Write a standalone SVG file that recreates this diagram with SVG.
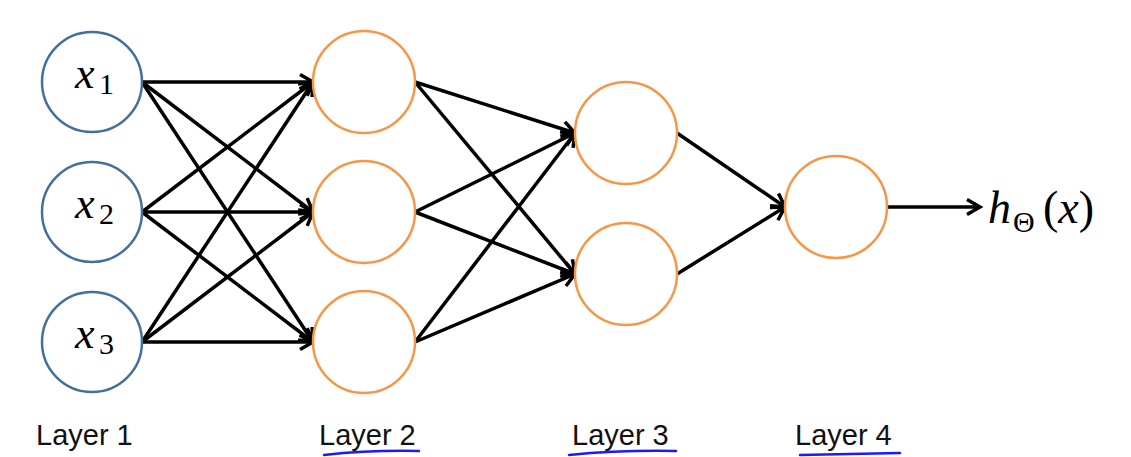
<svg xmlns="http://www.w3.org/2000/svg" width="1131" height="457" viewBox="0 0 1131 457">
<style>
.in{fill:#fff;stroke:#41709c;stroke-width:2.5}
.hid{fill:#fff;stroke:#f79646;stroke-width:2.5}
.e{stroke:#000;stroke-width:3.5;fill:none;marker-end:url(#ah)}
.m{font-family:"Liberation Serif",serif;fill:#000}
.lbl{font-family:"Liberation Sans",Arial,sans-serif;font-size:29px;fill:#111}
.ul{stroke:#1a1aff;stroke-width:2.5;fill:none;stroke-linecap:round}
</style>
<defs>
<marker id="ah" markerUnits="userSpaceOnUse" markerWidth="22" markerHeight="22" refX="15" refY="9" orient="auto">
<path d="M2,1.5 L15,9 L2,16.5" fill="none" stroke="#000" stroke-width="3.5" stroke-linejoin="miter"/>
</marker>
</defs>
<rect width="1131" height="457" fill="#fff"/>
<g id="connectors">
<line class="e" x1="142" y1="82" x2="313" y2="82"/>
<line class="e" x1="142" y1="82" x2="313" y2="212"/>
<line class="e" x1="142" y1="82" x2="313" y2="342"/>
<line class="e" x1="142" y1="212" x2="313" y2="82"/>
<line class="e" x1="142" y1="212" x2="313" y2="212"/>
<line class="e" x1="142" y1="212" x2="313" y2="342"/>
<line class="e" x1="142" y1="342" x2="313" y2="82"/>
<line class="e" x1="142" y1="342" x2="313" y2="212"/>
<line class="e" x1="142" y1="342" x2="313" y2="342"/>
<line class="e" x1="415" y1="82" x2="575" y2="133"/>
<line class="e" x1="415" y1="82" x2="575" y2="274"/>
<line class="e" x1="415" y1="212" x2="575" y2="133"/>
<line class="e" x1="415" y1="212" x2="575" y2="274"/>
<line class="e" x1="415" y1="342" x2="575" y2="133"/>
<line class="e" x1="415" y1="342" x2="575" y2="274"/>
<line class="e" x1="677" y1="133" x2="785" y2="207"/>
<line class="e" x1="677" y1="274" x2="785" y2="207"/>
<line class="e" x1="887" y1="207" x2="980" y2="207"/>
</g>
<g id="x1"><circle class="in" cx="92" cy="82" r="50"/><text class="m" x="75" y="88" font-size="44" font-style="italic">x</text><text class="m" x="99" y="94" font-size="30">1</text></g>
<g id="x2"><circle class="in" cx="92" cy="212" r="50"/><text class="m" x="75" y="218" font-size="44" font-style="italic">x</text><text class="m" x="99" y="224" font-size="30">2</text></g>
<g id="x3"><circle class="in" cx="92" cy="342" r="50"/><text class="m" x="75" y="348" font-size="44" font-style="italic">x</text><text class="m" x="99" y="354" font-size="30">3</text></g>
<g id="a21"><circle class="hid" cx="364" cy="82" r="51"/></g>
<g id="a22"><circle class="hid" cx="364" cy="212" r="51"/></g>
<g id="a23"><circle class="hid" cx="364" cy="342" r="51"/></g>
<g id="a31"><circle class="hid" cx="626" cy="133" r="51"/></g>
<g id="a32"><circle class="hid" cx="626" cy="274" r="51"/></g>
<g id="a41"><circle class="hid" cx="836" cy="207" r="51"/></g>
<g id="output"><text class="m" x="988" y="223" font-size="46" font-style="italic">h</text><text class="m" x="1013" y="232" font-size="30">Θ</text><text class="m" x="1043" y="223" font-size="46">(<tspan font-style="italic">x</tspan>)</text></g>
<g id="labels">
<text class="lbl" x="36" y="445">Layer 1</text>
<text class="lbl" x="319" y="445">Layer 2</text>
<text class="lbl" x="572" y="445">Layer 3</text>
<text class="lbl" x="795" y="445">Layer 4</text>
<path class="ul" d="M324,455 Q370,450 419,451"/>
<path class="ul" d="M569,455 Q620,450 676,451"/>
<path class="ul" d="M800,455 Q850,454 900,453"/>
</g>
</svg>
